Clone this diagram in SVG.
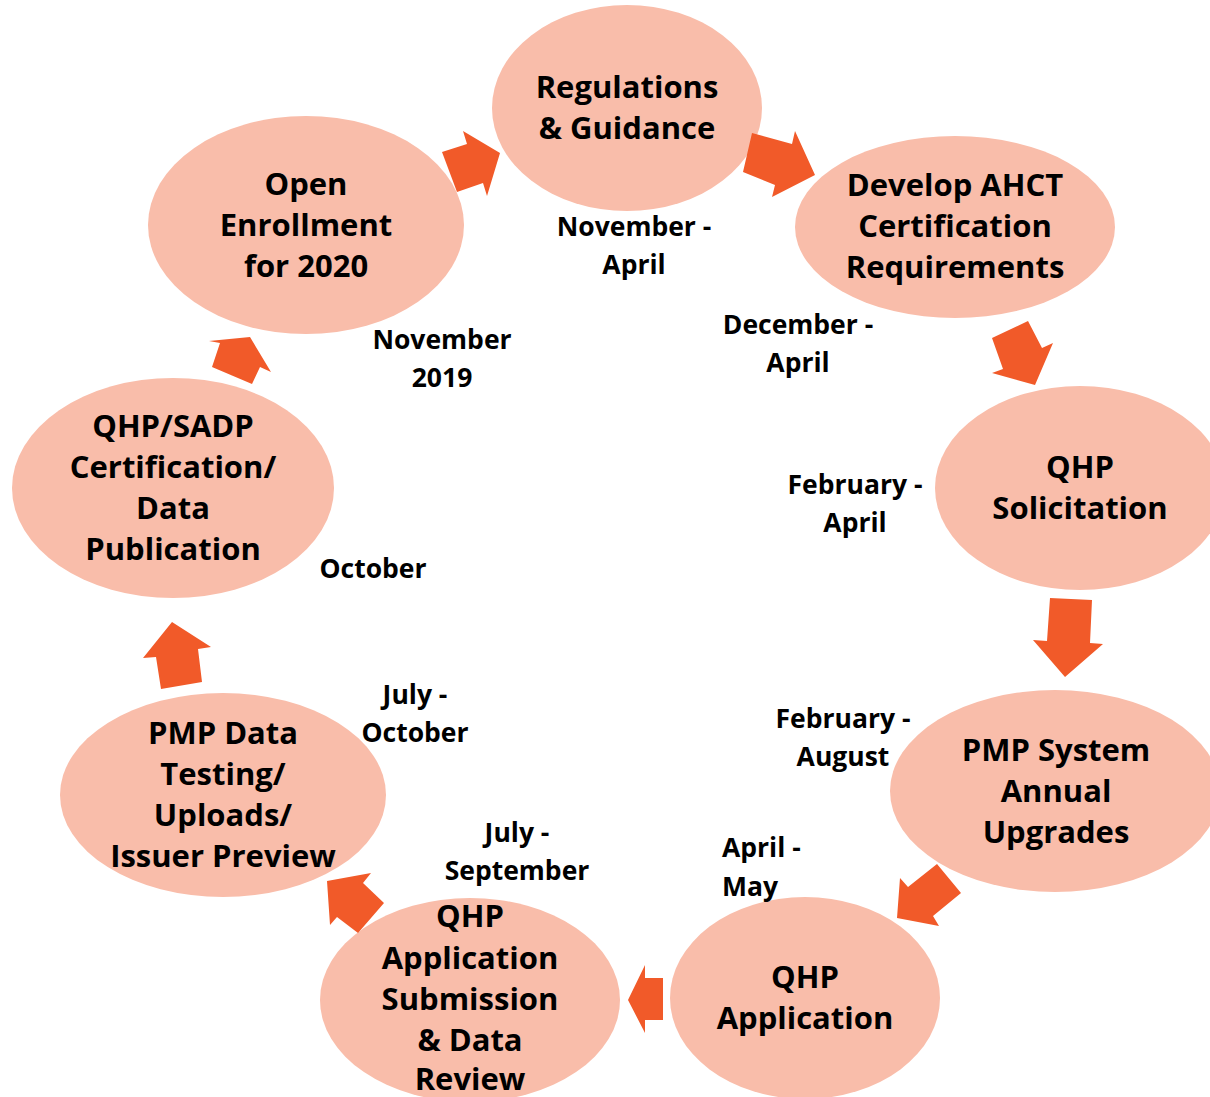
<svg xmlns="http://www.w3.org/2000/svg" width="1210" height="1097" viewBox="0 0 1210 1097">
  <style>
    .node ellipse { fill: #F9BDAA; }
    .node text { font-family: "Open Sans", "Liberation Sans", sans-serif; font-weight: 700; font-size: 31px; fill: #000; text-anchor: middle; }
    .lbl { font-family: "Open Sans", "Liberation Sans", sans-serif; font-weight: 700; font-size: 26.5px; fill: #000; text-anchor: middle; }
    .arrow { fill: #F15A29; }
  </style>
  <rect width="1210" height="1097" fill="#fff"/>

  <g id="node-regulations" class="node">
    <ellipse cx="627" cy="108" rx="135" ry="103"/>
    <text x="627" y="98">Regulations</text>
    <text x="627" y="139">&amp; Guidance</text>
  </g>
  <g id="node-develop-ahct" class="node">
    <ellipse cx="955" cy="227" rx="160" ry="91"/>
    <text x="955" y="196">Develop AHCT</text>
    <text x="955" y="237">Certification</text>
    <text x="955" y="278">Requirements</text>
  </g>
  <g id="node-qhp-solicitation" class="node">
    <ellipse cx="1080" cy="488" rx="145" ry="102"/>
    <text x="1080" y="478">QHP</text>
    <text x="1080" y="519">Solicitation</text>
  </g>
  <g id="node-pmp-system" class="node">
    <ellipse cx="1055" cy="791" rx="165" ry="101"/>
    <text x="1056" y="761">PMP System</text>
    <text x="1056" y="802">Annual</text>
    <text x="1056" y="843">Upgrades</text>
  </g>
  <g id="node-qhp-application" class="node">
    <ellipse cx="805" cy="998" rx="135" ry="101"/>
    <text x="805" y="988">QHP</text>
    <text x="805" y="1029">Application</text>
  </g>
  <g id="node-qhp-submission" class="node">
    <ellipse cx="470" cy="1000" rx="150" ry="102"/>
    <text x="470" y="927">QHP</text>
    <text x="470" y="969">Application</text>
    <text x="470" y="1010">Submission</text>
    <text x="470" y="1051">&amp; Data</text>
    <text x="470" y="1090">Review</text>
  </g>
  <g id="node-pmp-data" class="node">
    <ellipse cx="223" cy="795" rx="163" ry="102"/>
    <text x="223" y="744">PMP Data</text>
    <text x="223" y="785">Testing/</text>
    <text x="223" y="826">Uploads/</text>
    <text x="223" y="867">Issuer Preview</text>
  </g>
  <g id="node-qhp-sadp" class="node">
    <ellipse cx="173" cy="488" rx="161" ry="110"/>
    <text x="173" y="437">QHP/SADP</text>
    <text x="173" y="478">Certification/</text>
    <text x="173" y="519">Data</text>
    <text x="173" y="560">Publication</text>
  </g>
  <g id="node-open-enrollment" class="node">
    <ellipse cx="306" cy="225" rx="158" ry="109"/>
    <text x="306" y="195">Open</text>
    <text x="306" y="236">Enrollment</text>
    <text x="306" y="277">for 2020</text>
  </g>

  <!-- block arrows between the stages, clockwise -->
  <g id="connectors">
    <polygon class="arrow" points="442,152 467,144 463,131 500,153 487,196 483,183 457,192"/>
    <polygon class="arrow" points="752,133 792,144 795,131 815,175 772,197 775,185 743,172"/>
    <polygon class="arrow" points="992,338 1028,321 1042,348 1053,343 1035,385 992,373 1003,369"/>
    <polygon class="arrow" points="1050,598 1092,600 1090,643 1103,644 1065,677 1033,640 1047,641"/>
    <polygon class="arrow" points="937,864 961,893 933,916 939,926 897,918 900,878 908,887"/>
    <polygon class="arrow" points="663,978 663,1020 645,1020 645,1033 628,1000 645,965 645,978"/>
    <polygon class="arrow" points="327,881 371,873 363,883 384,903 358,933 337,917 330,925"/>
    <polygon class="arrow" points="172,622 211,647 198,649 202,682 161,689 156,657 143,658"/>
    <polygon class="arrow" points="250,337 271,372 260,367 252,384 212,367 220,343 209,341"/>
  </g>

  <!-- timing labels -->
  <g id="labels">
    <text class="lbl" x="634" y="236">November -</text>
    <text class="lbl" x="634" y="274">April</text>
    <text class="lbl" x="798" y="334">December -</text>
    <text class="lbl" x="798" y="372">April</text>
    <text class="lbl" x="855" y="494">February -</text>
    <text class="lbl" x="855" y="532">April</text>
    <text class="lbl" x="843" y="728">February -</text>
    <text class="lbl" x="843" y="766">August</text>
    <text class="lbl" x="722" y="857" style="text-anchor:start">April -</text>
    <text class="lbl" x="722" y="896" style="text-anchor:start">May</text>
    <text class="lbl" x="517" y="842">July -</text>
    <text class="lbl" x="517" y="880">September</text>
    <text class="lbl" x="415" y="704">July -</text>
    <text class="lbl" x="415" y="742">October</text>
    <text class="lbl" x="373" y="578">October</text>
    <text class="lbl" x="442" y="349">November</text>
    <text class="lbl" x="442" y="387">2019</text>
  </g>
</svg>
